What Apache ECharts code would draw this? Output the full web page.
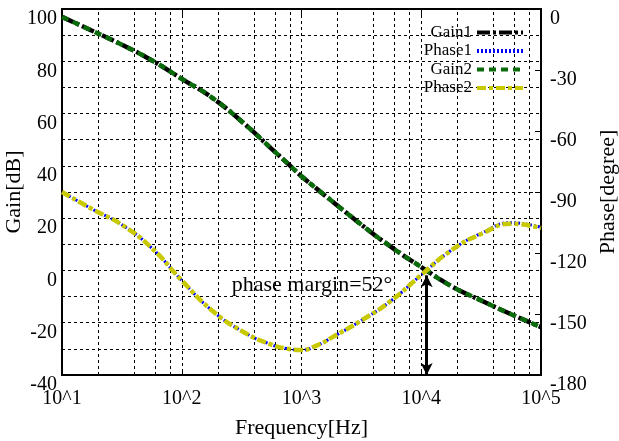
<!DOCTYPE html>
<html>
<head>
<meta charset="utf-8">
<script src="https://cdn.jsdelivr.net/npm/echarts@6/dist/echarts.min.js"></script>
<style>
html,body{margin:0;padding:0;background:#fff;}
#main{width:619px;height:441px;}
</style>
</head>
<body>
<div id="main"></div>
<script>
// frequency points [Hz]
var freqs = [10,18,32,56,100,180,320,560,750,1000,1350,1800,3200,5600,10000,18000,32000,56000,100000];
var gain1 = [97,91.6,86.2,80.4,73.3,66,56.8,46.6,41.3,36,31.1,26.5,17.3,9,1.3,-6.1,-11.6,-16.7,-21.7];
var gain2 = [97,91.6,86.2,80.4,73.3,66,56.8,46.6,41.3,36,31.1,26.5,17.3,9,1.3,-6.1,-11.6,-16.7,-21.7];
var phase1 = [-90,-98.5,-106.3,-117.5,-133.5,-148.4,-158.5,-165.1,-167,-167.7,-165.4,-161.5,-153,-143.5,-130.8,-118.5,-110.2,-105.1,-107.4];
var phase2 = [-90,-98.5,-106.3,-117.5,-133.5,-148.4,-158.5,-165.1,-167,-167.7,-165.4,-161.5,-153,-143.5,-130.8,-118.5,-110.5,-105.6,-107.7];

// log minor grid lines (2,4,6,8 per decade)
var minorFreqs = [20,40,60,80,200,400,600,800,2000,4000,6000,8000,20000,40000,60000,80000];

// phase margin annotation
var crossFreq = 11100;
var pmPhase = -131;
var pmText = 'phase margin=52°';
var pmTextAt = [1225, -5.6];

function pairs(xs, ys) {
  var out = [];
  for (var i = 0; i < xs.length; i++) out.push([xs[i], ys[i]]);
  return out;
}

var font = 'Liberation Serif';
var dash = [3, 3];

var myChart = echarts.init(document.getElementById('main'));
var option = {
  animation: false,
  grid: {
    left: 62, right: 78, top: 9, bottom: 66,
    outerBoundsMode: 'none',
    containLabel: false,
    show: true, borderColor: '#000', borderWidth: 2, backgroundColor: 'transparent'
  },
  legend: {
    orient: 'vertical',
    right: 89,
    top: 19,
    align: 'right',
    itemWidth: 46,
    itemHeight: 10,
    itemGap: 1.5,
    itemStyle: { opacity: 0 },
    lineStyle: { width: 4 },
    textStyle: { fontFamily: font, fontSize: 17, color: '#000' },
    data: ['Gain1', 'Phase1', 'Gain2', 'Phase2']
  },
  xAxis: [{
    type: 'log',
    logBase: 10,
    min: 10,
    max: 100000,
    name: 'Frequency[Hz]',
    nameLocation: 'middle',
    nameGap: 42,
    nameMoveOverlap: false,
    nameTextStyle: { fontFamily: font, fontSize: 22, color: '#000' },
    axisLine: { onZero: false, lineStyle: { color: '#000', width: 2 } },
    axisTick: { inside: true, length: 6, lineStyle: { color: '#000' } },
    axisLabel: {
      fontFamily: font, fontSize: 20, color: '#000', margin: 14,
      showMinLabel: true, showMaxLabel: true,
      formatter: function (v) { return '10^' + Math.round(Math.log10(v)); }
    },
    splitLine: { show: true, lineStyle: { color: '#000', width: 1, type: dash } }
  }, {
    type: 'log',
    logBase: 10,
    min: 10,
    max: 100000,
    position: 'top',
    axisLine: { onZero: false, lineStyle: { color: '#000', width: 2 } },
    axisTick: { inside: true, length: 6, lineStyle: { color: '#000' } },
    axisLabel: { show: false },
    splitLine: { show: false }
  }],
  yAxis: [{
    type: 'value',
    min: -40,
    max: 100,
    interval: 10,
    name: 'Gain[dB]',
    nameLocation: 'middle',
    nameGap: 37,
    nameMoveOverlap: false,
    nameTextStyle: { fontFamily: font, fontSize: 22, color: '#000' },
    axisLine: { show: true, lineStyle: { color: '#000', width: 2 } },
    axisTick: { show: false },
    axisLabel: {
      fontFamily: font, fontSize: 20, color: '#000', margin: 5,
      verticalAlign: 'top',
      formatter: function (v) { return v % 20 === 0 ? String(v) : ''; }
    },
    splitLine: { show: true, lineStyle: { color: '#000', width: 1, type: dash } }
  }, {
    type: 'value',
    min: -180,
    max: 0,
    interval: 30,
    position: 'right',
    name: 'Phase[degree]',
    nameLocation: 'middle',
    nameGap: 56,
    nameMoveOverlap: false,
    nameTextStyle: { fontFamily: font, fontSize: 22, color: '#000' },
    axisLine: { show: true, lineStyle: { color: '#000', width: 2 } },
    axisTick: { show: true, inside: true, length: 6, lineStyle: { color: '#000' } },
    axisLabel: {
      fontFamily: font, fontSize: 20, color: '#000', margin: 9,
      verticalAlign: 'top'
    },
    splitLine: { show: false }
  }],
  series: [{
    name: 'Gain1',
    type: 'line',
    yAxisIndex: 0,
    data: pairs(freqs, gain1),
    smooth: 0.5,
    symbol: 'none',
    color: '#000',
    lineStyle: { color: '#000', width: 4.5, type: [13, 3, 3, 3] },
    markLine: {
      silent: true,
      z: 1,
      symbol: 'none',
      label: { show: false },
      lineStyle: { color: '#000', width: 1, type: dash },
      data: minorFreqs.map(function (f) { return { xAxis: f }; })
    }
  }, {
    name: 'Phase1',
    type: 'line',
    yAxisIndex: 1,
    data: pairs(freqs, phase1),
    smooth: 0.5,
    symbol: 'none',
    color: '#0000ff',
    lineStyle: { color: '#0000ff', width: 3, type: [2, 2] }
  }, {
    name: 'Gain2',
    type: 'line',
    yAxisIndex: 0,
    data: pairs(freqs, gain2),
    smooth: 0.5,
    symbol: 'none',
    color: '#0a6b0a',
    lineStyle: { color: '#0a6b0a', width: 4.5, type: [7, 5] },
    markPoint: {
      silent: true,
      symbol: 'circle',
      symbolSize: 0,
      label: {
        show: true, position: 'inside', formatter: pmText,
        fontFamily: font, fontSize: 22, color: '#000'
      },
      data: [{ coord: pmTextAt }]
    }
  }, {
    name: 'Phase2',
    type: 'line',
    yAxisIndex: 1,
    data: pairs(freqs, phase2),
    smooth: 0.5,
    symbol: 'none',
    color: '#c9c900',
    lineStyle: { color: '#c9c900', width: 4.5, type: [9, 3, 4, 3] },
    markLine: {
      silent: true,
      z: 10,
      symbol: ['arrow', 'arrow'],
      symbolSize: [9, 12],
      label: { show: false },
      lineStyle: { color: '#000', width: 3, type: 'solid' },
      data: [[{ coord: [crossFreq, pmPhase] }, { coord: [crossFreq, -180] }]]
    }
  }]
};
myChart.setOption(option);
</script>
</body>
</html>
